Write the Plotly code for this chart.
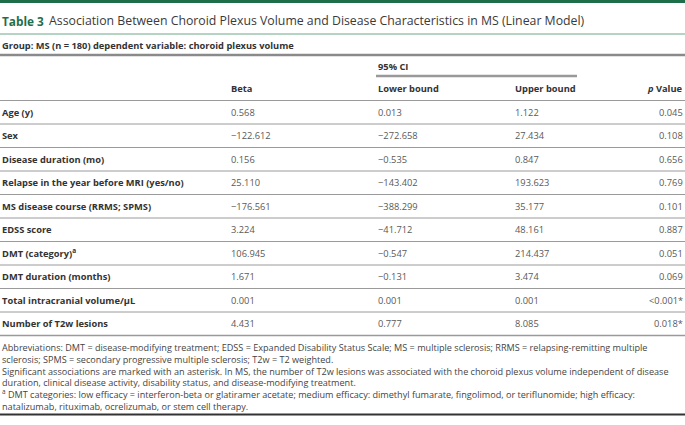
import plotly.graph_objects as go

# ---- data ----
variables = [
    "Age (y)", "Sex", "Disease duration (mo)", "Relapse in the year before MRI (yes/no)",
    "MS disease course (RRMS; SPMS)", "EDSS score", "DMT (category)<sup>a</sup>",
    "DMT duration (months)", "Total intracranial volume/µL", "Number of T2w lesions",
]
beta = [0.568, -122.612, 0.156, 25.110, -176.561, 3.224, 106.945, 1.671, 0.001, 4.431]
lower_bound = [0.013, -272.658, -0.535, -143.402, -388.299, -41.712, -0.547, -0.131, 0.001, 0.777]
upper_bound = [1.122, 27.434, 0.847, 193.623, 35.177, 48.161, 214.437, 3.474, 0.001, 8.085]
p_values = ["0.045", "0.108", "0.656", "0.769", "0.101", "0.887", "0.051", "0.069", "<0.001*", "0.018*"]
column_headers = ["Beta", "Lower bound", "Upper bound", "<i>p</i> Value"]

title_label = "Table 3"
title_text = "Association Between Choroid Plexus Volume and Disease Characteristics in MS (Linear Model)"
group_text = "Group: MS (n = 180) dependent variable: choroid plexus volume"
ci_text = "95% CI"
footnotes = [
    "Abbreviations: DMT = disease-modifying treatment; EDSS = Expanded Disability Status Scale; MS = multiple sclerosis; RRMS = relapsing-remitting multiple",
    "sclerosis; SPMS = secondary progressive multiple sclerosis; T2w = T2 weighted.",
    "Significant associations are marked with an asterisk. In MS, the number of T2w lesions was associated with the choroid plexus volume independent of disease",
    "duration, clinical disease activity, disability status, and disease-modifying treatment.",
    "<sup>a</sup> DMT categories: low efficacy = interferon-beta or glatiramer acetate; medium efficacy: dimethyl fumarate, fingolimod, or teriflunomide; high efficacy:",
    "natalizumab, rituximab, ocrelizumab, or stem cell therapy.",
]


def fmt(v):
    return f"{v:.3f}".replace("-", "\u2212")


W, H = 685, 425
GREEN = "#1f6e4a"
FONT = "Open Sans"
TXT = "#333333"
VAL = "#595959"

fig = go.Figure()
ann = []
shapes = []


def line(x0, x1, y, color, w):
    shapes.append(dict(type="line", xref="x", yref="y", x0=x0, x1=x1, y0=y, y1=y,
                       line=dict(color=color, width=w)))


def text(x, y, s, size, color, anchor="left", weight="normal", yanchor="middle"):
    ann.append(dict(x=x, y=y, xref="x", yref="y", text=s, showarrow=False,
                    xanchor=anchor, yanchor=yanchor, align="left",
                    font=dict(family=FONT, size=size, color=color, weight=weight)))


# top bar
shapes.append(dict(type="rect", xref="x", yref="y", x0=0, x1=W, y0=0, y1=3,
                   fillcolor=GREEN, line=dict(width=0)))
text(0, 20.5, title_label, 11.8, GREEN, weight="bold")
text(47, 20.5, title_text, 12.3, "#3a3a3a")
line(0, W, 34, "#6aa888", 1)

text(0, 45, group_text, 9.3, TXT, weight="bold")
line(0, W, 55, "#8a8a8a", 2.5)

col_x = [229, 376, 513, 685]
text(col_x[1], 66, ci_text, 9.3, TXT, weight="bold")
line(376, 577, 76, "#999999", 2.5)
for i, h in enumerate(column_headers):
    text(col_x[i], 88.5, h, 9.3, TXT, anchor="right" if i == 3 else "left", weight="bold")

row0 = 100.5
rh = 23.5
line(0, W, row0, "#9a9a9a", 1)
for k, var in enumerate(variables):
    yc = row0 + rh * k + 11.7
    text(0, yc, var, 9.3, TXT, weight="bold")
    text(col_x[0], yc, fmt(beta[k]), 9.3, VAL)
    text(col_x[1], yc, fmt(lower_bound[k]), 9.3, VAL)
    text(col_x[2], yc, fmt(upper_bound[k]), 9.3, VAL)
    text(col_x[3], yc, p_values[k], 9.3, VAL, anchor="right")
    line(0, W, row0 + rh * (k + 1), "#9a9a9a", 1.3 if k == 9 else 1)

text(0, 339, "<br>".join(footnotes), 9.1, "#444444", yanchor="top")

line(0, W, 414.5, "#333333", 2)

fig.update_layout(
    width=W, height=H, margin=dict(l=0, r=0, t=0, b=0),
    paper_bgcolor="white", plot_bgcolor="white",
    xaxis=dict(range=[0, W], visible=False, fixedrange=True),
    yaxis=dict(range=[H, 0], visible=False, fixedrange=True),
    annotations=ann, shapes=shapes, showlegend=False,
)
fig.write_html("out.html", config={"displayModeBar": False},
               post_script="document.body.style.margin='0';")
